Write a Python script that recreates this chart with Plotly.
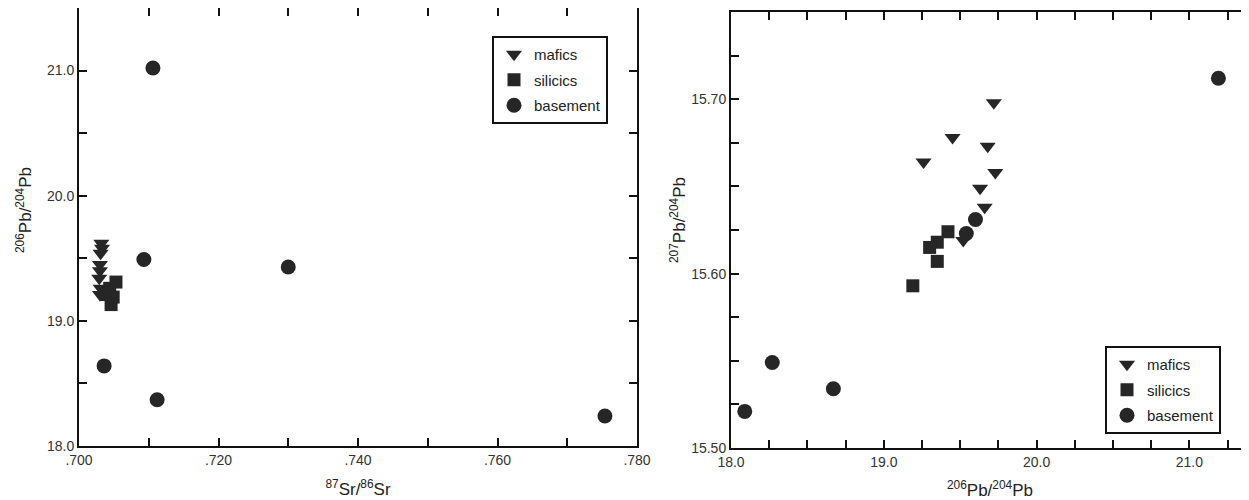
import plotly.graph_objects as go

# ---- Left panel: 206Pb/204Pb vs 87Sr/86Sr ----
sr_mafics = [0.7032, 0.7033, 0.7031, 0.7030, 0.7030, 0.7029, 0.7031, 0.7030]
pb206_mafics_l = [19.62, 19.58, 19.54, 19.45, 19.40, 19.34, 19.26, 19.21]
sr_silicics = [0.7053, 0.7044, 0.7039, 0.7049, 0.7046]
pb206_silicics_l = [19.31, 19.26, 19.21, 19.19, 19.13]
sr_basement = [0.7106, 0.7093, 0.7300, 0.7036, 0.7112, 0.7754]
pb206_basement_l = [21.02, 19.49, 19.43, 18.64, 18.37, 18.24]

# ---- Right panel: 207Pb/204Pb vs 206Pb/204Pb ----
pb206_mafics = [19.72, 19.45, 19.68, 19.26, 19.73, 19.63, 19.66, 19.52]
pb207_mafics = [15.698, 15.678, 15.673, 15.664, 15.658, 15.649, 15.638, 15.619]
pb206_silicics = [19.42, 19.35, 19.30, 19.35, 19.19]
pb207_silicics = [15.624, 15.618, 15.615, 15.607, 15.593]
pb206_basement = [21.19, 19.60, 19.54, 18.27, 18.09, 18.67]
pb207_basement = [15.712, 15.631, 15.623, 15.549, 15.521, 15.534]

# ---- Tick labels ----
sr_tickvals = [0.700, 0.710, 0.720, 0.730, 0.740, 0.750, 0.760, 0.770, 0.780]
sr_ticktext = [".700", "", ".720", "", ".740", "", ".760", "", ".780"]
pbl_tickvals = [18.0, 18.5, 19.0, 19.5, 20.0, 20.5, 21.0, 21.5]
pbl_ticktext = ["18.0", "", "19.0", "", "20.0", "", "21.0", ""]
pbx_tickvals = [18.0 + 0.25 * i for i in range(14)]
pbx_ticktext = [f"{v:.1f}" if abs(v - round(v)) < 1e-9 else "" for v in pbx_tickvals]
pb7_tickvals = [15.50 + 0.025 * i for i in range(11)]
pb7_ticktext = [f"{v:.2f}" if i % 4 == 0 else "" for i, v in enumerate(pb7_tickvals)]

MC = "#262626"
FONT = "Liberation Sans, Arial, sans-serif"

fig = go.Figure()

def add(x, y, name, symbol, size, xa, ya, legend):
    fig.add_trace(go.Scatter(
        x=x, y=y, mode="markers", name=name, legendgroup=name + legend,
        marker=dict(symbol=symbol, size=size, color=MC, line=dict(width=0)),
        xaxis=xa, yaxis=ya, legend=legend))

add(sr_mafics, pb206_mafics_l, "mafics", "triangle-down", 14, "x", "y", "legend")
add(sr_silicics, pb206_silicics_l, "silicics", "square", 13, "x", "y", "legend")
add(sr_basement, pb206_basement_l, "basement", "circle", 15, "x", "y", "legend")

add(pb206_mafics, pb207_mafics, "mafics", "triangle-down", 14, "x2", "y2", "legend2")
add(pb206_silicics, pb207_silicics, "silicics", "square", 13, "x2", "y2", "legend2")
add(pb206_basement, pb207_basement, "basement", "circle", 15, "x2", "y2", "legend2")

# page body has an 8px default margin
OFF = 8
W, H = 1249 - OFF, 500 - OFF

def px(x):
    return (x - OFF) / W

def py(y):
    return 1 - (y - OFF) / H

axis_common = dict(showline=True, linecolor="#111", linewidth=2, ticks="inside",
                   ticklen=8, tickwidth=1.5, tickcolor="#111", showgrid=False,
                   zeroline=False, automargin=False,
                   tickfont=dict(family=FONT, size=14, color="#333"))

legend_common = dict(xanchor="left", yanchor="top", bordercolor="#111", borderwidth=2,
                     bgcolor="white", font=dict(family=FONT, size=15, color="#222"),
                     itemwidth=30, tracegroupgap=3)

fig.update_layout(
    width=W, height=H, margin=dict(l=0, r=0, t=0, b=0),
    paper_bgcolor="white", plot_bgcolor="white",
    font=dict(family=FONT, color="#222"),
    xaxis=dict(domain=[px(79), px(637)], range=[0.700, 0.780], tickmode="array",
               tickvals=sr_tickvals, ticktext=sr_ticktext, mirror="ticks",
               title=dict(text="<sup>87</sup>Sr/<sup>86</sup>Sr", font=dict(size=17), standoff=16),
               anchor="y", **axis_common),
    yaxis=dict(domain=[py(446), py(8)], range=[18.0, 21.5], tickmode="array",
               tickvals=pbl_tickvals, ticktext=pbl_ticktext, mirror="ticks",
               anchor="x", **axis_common),
    xaxis2=dict(domain=[px(731), 1.0], range=[18.0, 18.0 + (1249 - 731) / 152.8], tickmode="array",
                tickvals=pbx_tickvals, ticktext=pbx_ticktext, mirror="ticks",
                title=dict(text="<sup>206</sup>Pb/<sup>204</sup>Pb", font=dict(size=17), standoff=16),
                anchor="y2", **axis_common),
    yaxis2=dict(domain=[py(448), py(12)], range=[15.50, 15.75], tickmode="array",
                tickvals=pb7_tickvals, ticktext=pb7_ticktext, mirror=False,
                anchor="x2", **axis_common),
    legend=dict(x=px(492), y=py(36), **legend_common),
    legend2=dict(x=px(1105), y=py(346), **legend_common),
    annotations=[
        dict(text="<sup>206</sup>Pb/<sup>204</sup>Pb", textangle=-90, showarrow=False,
             xref="paper", yref="paper", x=px(24), y=py(210), xanchor="center", yanchor="middle",
             font=dict(family=FONT, size=17, color="#222")),
        dict(text="<sup>207</sup>Pb/<sup>204</sup>Pb", textangle=-90, showarrow=False,
             xref="paper", yref="paper", x=px(678), y=py(220), xanchor="center", yanchor="middle",
             font=dict(family=FONT, size=17, color="#222")),
    ],
)

fig.write_html("out.html")
